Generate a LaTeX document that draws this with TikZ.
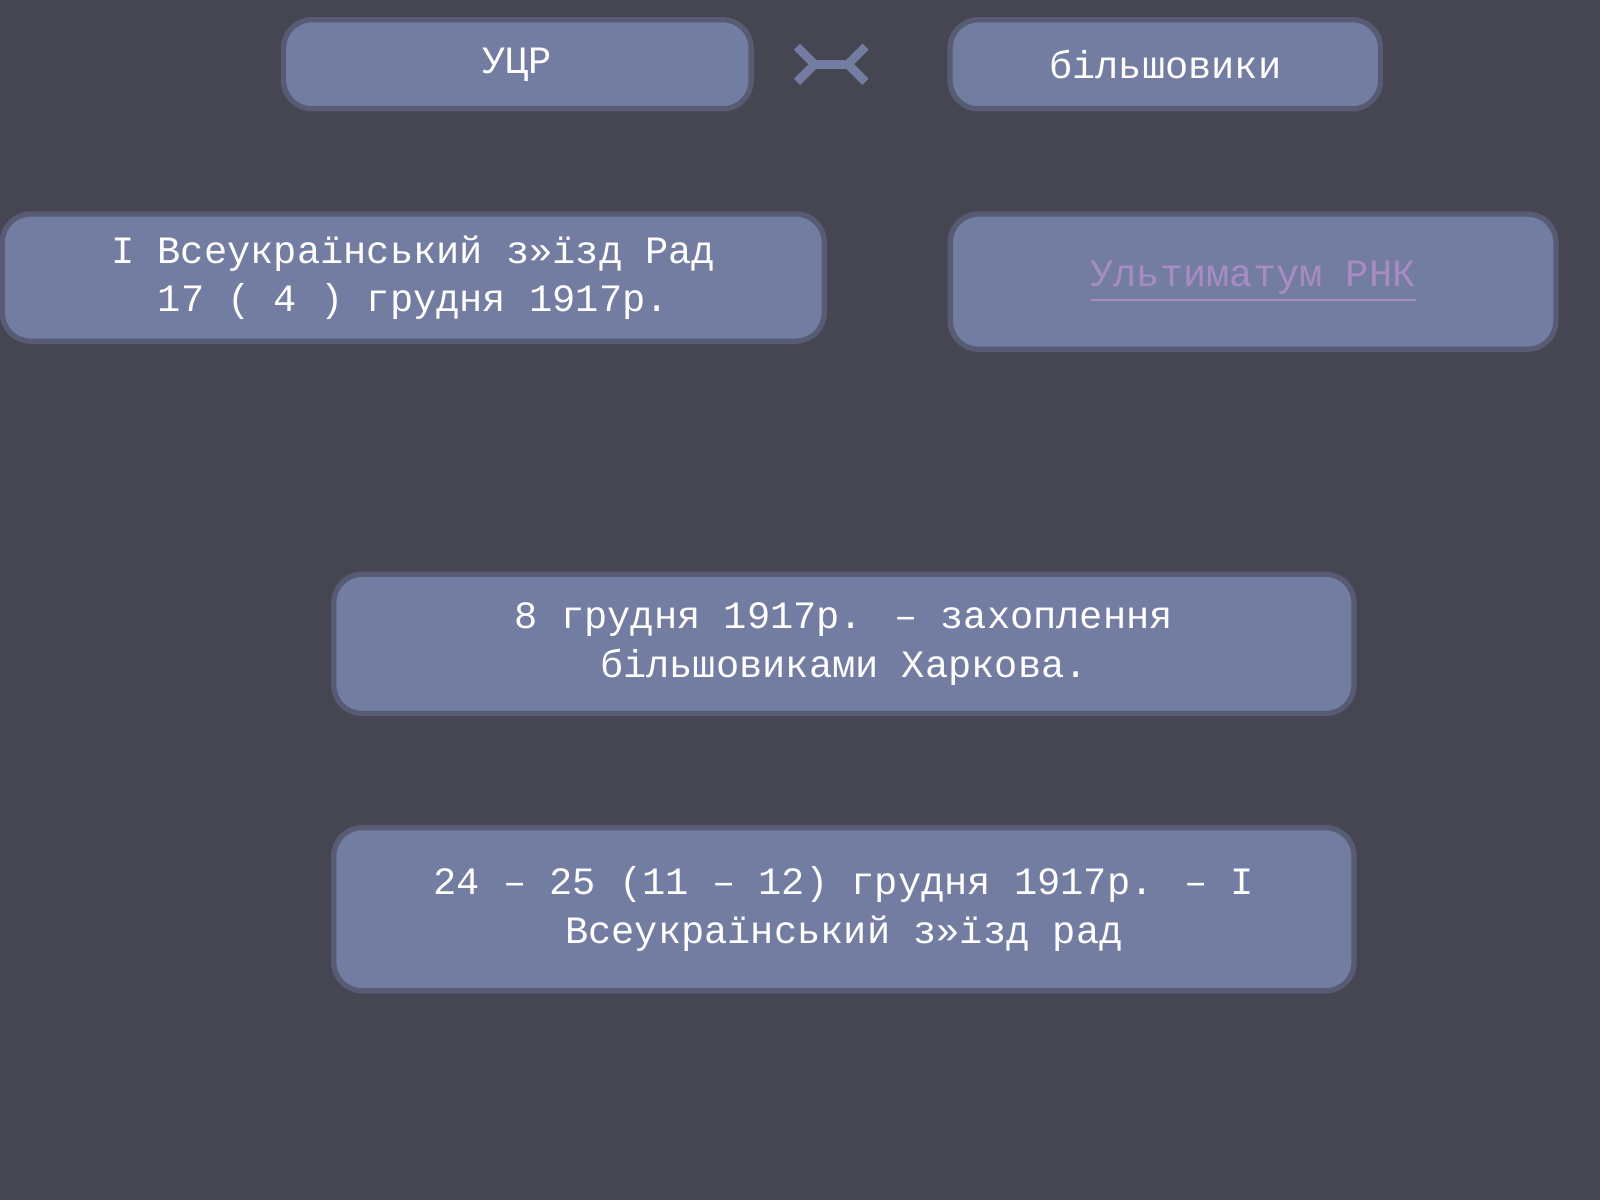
\documentclass[tikz,border=0pt]{standalone}
\usepackage{fontspec}
\setmainfont{Liberation Mono}
\usetikzlibrary{arrows.meta}
\definecolor{bgcol}{HTML}{464652}
\definecolor{boxcol}{HTML}{737CA1}
\definecolor{edgecol}{HTML}{575B73}
\definecolor{linkcol}{HTML}{A68CC2}
\tikzset{
  event/.style={draw=edgecol, line width=1.5pt, fill=boxcol, rounded corners=8pt,
    text=white, align=center, font=\fontsize{11}{13.8}\selectfont, inner sep=0pt}
}
\begin{document}
\begin{tikzpicture}[x=0.0102cm, y=-0.0102cm]
	% Background
	\fill[bgcol] (0,0) rectangle (1568,1176);
	\useasboundingbox (0,0) rectangle (1568,1176);
	
	% Nodes
	\node[event, minimum width=4.67cm, minimum height=0.89cm] (ucr) at (507,63) {УЦР};
	\node[event, minimum width=4.30cm, minimum height=0.89cm] (bolsh) at (1142,63) {більшовики};
	\node[event, minimum width=8.21cm, minimum height=1.27cm] (zizd) at (405,272) {I Всеукраїнський з»їзд Рад\\17 ( 4 ) грудня 1917р.};
	\node[event, minimum width=6.05cm, minimum height=1.35cm] (ult) at (1228,276) {\textcolor{linkcol}{\underline{Ультиматум РНК}}};
	\node[event, minimum width=10.19cm, minimum height=1.39cm] (kharkiv) at (827,631) {8 грудня 1917р. – захоплення\\більшовиками Харкова.};
	\node[event, minimum width=10.19cm, minimum height=1.63cm] (rad) at (827,891) {24 – 25 (11 – 12)  грудня 1917р. – I\\Всеукраїнський з»їзд рад};
	
	% Edges
	\draw[{Straight Barb[length=5pt]}-{Straight Barb[length=5pt]}, line width=2.5pt, color=boxcol, shorten <=25pt, shorten >=36pt] (ucr) -- (bolsh);
\end{tikzpicture}
\end{document}
